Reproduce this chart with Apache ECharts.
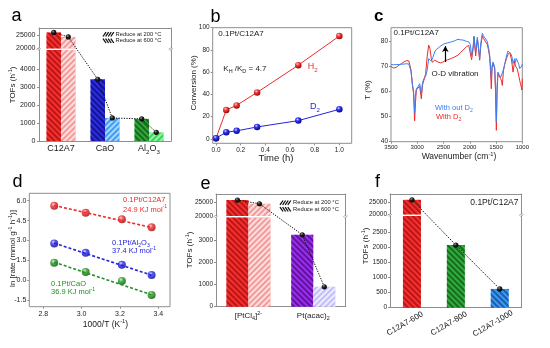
<!DOCTYPE html>
<html>
<head>
<meta charset="utf-8">
<script src="https://cdn.jsdelivr.net/npm/echarts@6.0.0/dist/echarts.min.js"></script>
<style>
html,body{margin:0;padding:0;background:#ffffff;}
#chart{width:550px;height:348px;}
</style>
</head>
<body>
<div id="chart"></div>
<script>
// ================= DATA =================
// (a) TOFs by support, reduced at 200 / 600 °C
const aCategories = ['C12A7', 'CaO', 'Al_{2}O_{3}'];
const aReduce200 = [26100, 3430, 1230];
const aReduce600 = [24400, 1280, 480];
const aLowTicks = [0, 1000, 2000, 3000, 4000];
const aHighTicks = [20000, 25000];

// (b) conversion vs time
const bTime = [0, 0.083, 0.167, 0.333, 0.667, 1.0];
const bH2 = [0.6, 26, 30.1, 41.8, 66.3, 92.5];
const bD2 = [0.6, 6, 7.2, 10.7, 16.4, 26.6];
const bXTicks = [0, 0.2, 0.4, 0.6, 0.8, 1.0];
const bYTicks = [0, 20, 40, 60, 80, 100];

// (c) FTIR spectra
const cWavenumber = [3500,3450,3400,3350,3300,3250,3200,3160,3120,3090,3070,3050,3035,3018,2986,2954,2922,2900,2872,2840,2810,2783,2760,2732,2715,2700,2668,2640,2605,2550,2478,2420,2351,2290,2224,2180,2129,2066,2020,1990,1965,1955,1935,1920,1888,1856,1835,1812,1790,1761,1740,1720,1704,1666,1640,1621,1605,1590,1575,1558,1526,1510,1494,1480,1463,1440,1412,1395,1380,1360,1336,1300,1272,1240,1209,1190,1177,1160,1145,1130,1114,1100,1082,1065,1050,1035,1018,1008,1000];
const cWithoutD2 = [70.6,70.5,70.6,70.6,70.7,70.8,70.9,70.8,68.0,62.5,60.0,51.6,58.0,61.0,61.8,63.0,59.0,63.5,65.0,66.0,68.5,72.9,73.5,72.0,71.5,73.5,75.6,76.5,77.2,78.0,78.9,79.2,79.6,80.0,80.6,80.4,80.3,79.8,79.6,78.5,74.0,73.6,78.0,81.9,75.6,81.4,78.0,72.9,79.0,83.0,82.0,82.5,81.5,79.7,77.0,74.3,70.0,65.0,70.0,71.6,69.6,62.0,48.0,62.0,67.6,66.5,65.5,66.0,65.0,68.5,70.6,74.0,76.0,76.5,74.6,73.0,71.0,72.0,72.9,71.5,73.0,72.5,71.5,70.5,69.0,69.5,69.0,70.0,70.9];
const cWithD2 = [69.8,69.2,69.5,70.3,71.0,71.7,72.2,72.0,68.5,62.0,59.0,48.3,55.0,60.5,61.0,62.0,57.0,62.5,64.5,67.0,74.0,78.3,77.0,72.9,71.5,71.0,72.3,71.8,71.6,71.2,72.0,72.5,73.0,73.6,74.3,75.3,76.3,77.6,78.2,77.5,72.5,72.3,77.0,81.5,74.0,80.5,77.0,72.3,78.0,82.0,81.0,81.5,80.5,78.5,76.0,73.5,68.0,61.0,69.5,71.0,69.0,60.0,44.5,60.0,67.0,66.5,65.0,64.0,62.3,68.0,70.6,73.0,74.6,75.5,72.9,70.0,67.6,70.0,72.0,70.0,70.6,69.0,67.6,66.0,64.3,63.0,61.6,60.5,65.0];
const cXTicks = [3500, 3000, 2500, 2000, 1500, 1000];
const cYTicks = [40, 50, 60, 70, 80];
const cArrowX = [2465, 2465];
const cArrowY = [71.6, 77.9];

// (d) Arrhenius plot
const dInvT = [2.857, 3.021, 3.21, 3.365];
const dC12A7 = [5.62, 5.09, 4.60, 3.99];
const dAl2O3 = [2.78, 2.07, 1.17, 0.39];
const dCaO = [1.32, 0.61, -0.06, -1.12];
const dFitX = [2.857, 3.365];
const dFitC12A7 = [5.64, 3.98];
const dFitAl2O3 = [2.80, 0.38];
const dFitCaO = [1.36, -1.10];
const dXTicks = [2.8, 3.0, 3.2, 3.4];
const dYTicks = [-1.5, 0, 1.5, 3.0, 4.5, 6.0];

// (e) TOFs by Pt precursor
const eCategories = ['[PtCl_{4}]^{2-}', 'Pt(acac)_{2}'];
const eReduce200 = [26000, 3250];
const eReduce600 = [24600, 900];
const eLowTicks = [0, 1000, 2000, 3000];
const eHighTicks = [20000, 25000];

// (f) TOFs by C12A7 calcination temperature
const fCategories = ['C12A7-600', 'C12A7-800', 'C12A7-1000'];
const fTOF = [25800, 2070, 620];
const fLowTicks = [0, 500, 1000, 1500, 2000, 2500];
const fHighTicks = [20000, 25000];

// ================= STYLE / LAYOUT =================
const FONT = '"Liberation Sans", Arial, Helvetica, sans-serif';
const FRAME = '#8e8e8e';
const INK = '#1a1a1a';
const L = {
  aTop: {left: 39, top: 28, width: 132, height: 20.5},
  aBot: {left: 39, top: 50, width: 132, height: 91},
  b:    {left: 212.7, top: 27.7, width: 139, height: 115.6},
  c:    {left: 391, top: 27.7, width: 131.3, height: 114},
  d:    {left: 29.3, top: 193.3, width: 140.7, height: 113.4},
  eTop: {left: 216, top: 194, width: 129.7, height: 22},
  eBot: {left: 216, top: 217.5, width: 129.7, height: 89.2},
  fTop: {left: 390, top: 194, width: 131.7, height: 20.5},
  fBot: {left: 390, top: 216, width: 131.7, height: 91.7}
};

function rich(str) {
  let out = '', last = 0, m;
  const re = /([_^])\{([^}]*)\}/g;
  while ((m = re.exec(str))) {
    if (m.index > last) out += '{n|' + str.slice(last, m.index) + '}';
    out += '{' + (m[1] === '_' ? 'b' : 't') + '|' + m[2] + '}';
    last = re.lastIndex;
  }
  if (last < str.length) out += '{n|' + str.slice(last) + '}';
  return out;
}
function richStyles(fs, color, key) {
  const k = key || 'color';
  const lh = Math.round(fs * 1.3);
  const n = {fontSize: fs, lineHeight: lh, verticalAlign: 'middle', fontFamily: FONT};
  const b = {fontSize: fs * 0.68, lineHeight: fs * 0.72, verticalAlign: 'bottom', fontFamily: FONT};
  const t = {fontSize: fs * 0.68, lineHeight: fs * 0.72, verticalAlign: 'top', fontFamily: FONT};
  n[k] = color; b[k] = color; t[k] = color;
  return {n, b, t};
}
function hatch(color, lineColor, dir) {
  return {color, decal: {symbol: 'rect', symbolSize: 1, color: lineColor, dashArrayX: [1, 0], dashArrayY: [1.3, 1.7], rotation: dir * Math.PI / 4}};
}
const a200Style = [hatch('#f53030', 'rgba(140,0,0,0.55)', 1), hatch('#2d2de8', 'rgba(0,0,70,0.55)', 1), hatch('#31a83c', 'rgba(0,55,0,0.55)', 1)];
const a600Style = [hatch('#f39a9a', 'rgba(255,235,235,0.85)', -1), hatch('#3d9df4', 'rgba(220,240,255,0.7)', -1), hatch('#33d853', 'rgba(220,255,225,0.6)', -1)];
const e200Style = [hatch('#f53030', 'rgba(140,0,0,0.55)', 1), hatch('#9b2df0', 'rgba(45,0,85,0.55)', 1)];
const e600Style = [hatch('#f39a9a', 'rgba(255,235,235,0.85)', -1), hatch('#c3bff8', 'rgba(245,245,255,0.85)', -1)];
const fStyle = [hatch('#f53030', 'rgba(140,0,0,0.55)', 1), hatch('#31ac3e', 'rgba(0,55,0,0.55)', 1), hatch('#3a9af2', 'rgba(0,30,100,0.5)', 1)];

function grid(r, show) {
  return Object.assign({show: !!show, borderColor: FRAME, borderWidth: 1, containLabel: false, outerBoundsMode: 'none'}, r);
}
function vAxis(o) {
  return {
    type: 'value', gridIndex: o.grid, min: o.min, max: o.max, position: o.pos, inverse: !!o.inverse,
    axisLine: {show: !!o.line, onZero: false, lineStyle: {color: FRAME, width: 1}},
    axisTick: {show: !!o.ticks, inside: false, length: 2, customValues: o.ticks || undefined, lineStyle: {color: FRAME}},
    axisLabel: {show: !!o.ticks, customValues: o.ticks || undefined, margin: o.margin || 3, fontSize: o.fs || 7, fontFamily: FONT, color: '#222',
      formatter: o.fmt || (v => String(v))},
    splitLine: {show: false}
  };
}
function cAxis(o) {
  return {
    type: 'category', gridIndex: o.grid, data: o.data, position: o.pos,
    axisLine: {show: true, onZero: false, lineStyle: {color: FRAME, width: 1}},
    axisTick: {show: false},
    axisLabel: o.labels ? Object.assign({show: true, margin: o.margin || 2, fontSize: o.fs, fontFamily: FONT, color: INK, interval: 0,
      formatter: v => rich(v), rich: richStyles(o.fs, INK)}, o.extra || {}) : {show: false},
    splitLine: {show: false}
  };
}
function bars(xi, yi, vals, styles, width) {
  return {type: 'bar', xAxisIndex: xi, yAxisIndex: yi, barWidth: width, barGap: '0%', clip: true, silent: true,
    data: vals.map((v, i) => ({value: v, itemStyle: styles[i]}))};
}
function sphere(light, mid, dark) {
  return {type: 'radial', x: 0.38, y: 0.32, r: 0.7, colorStops: [{offset: 0, color: light}, {offset: 0.35, color: mid}, {offset: 1, color: dark}]};
}
const zip = (xs, ys) => xs.map((x, i) => [x, ys[i]]);

const RED = '#ee2a2a', BLUE = '#2424dc', GREEN = '#229022';
const one = v => v.toFixed(1);

const option = {
  animation: false,
  backgroundColor: '#ffffff',
  grid: [grid(L.aTop), grid(L.aBot), grid(L.b, true), grid(L.c, true), grid(L.d, true),
         grid(L.eTop), grid(L.eBot), grid(L.fTop), grid(L.fBot)],
  xAxis: [
    cAxis({grid: 0, data: aCategories, pos: 'top'}),
    cAxis({grid: 1, data: aCategories, pos: 'bottom', labels: true, fs: 9, margin: 2}),
    vAxis({grid: 2, min: -0.027, max: 1.1, pos: 'bottom', ticks: bXTicks, fs: 6.5, fmt: one, margin: 3}),
    vAxis({grid: 3, min: 1000, max: 3500, pos: 'bottom', inverse: true, ticks: cXTicks, fs: 6, margin: 3}),
    vAxis({grid: 4, min: 2.727, max: 3.461, pos: 'bottom', ticks: dXTicks, fs: 7, fmt: one, margin: 4}),
    cAxis({grid: 5, data: eCategories, pos: 'top'}),
    cAxis({grid: 6, data: eCategories, pos: 'bottom', labels: true, fs: 8, margin: 4}),
    cAxis({grid: 7, data: fCategories, pos: 'top'}),
    cAxis({grid: 8, data: fCategories, pos: 'bottom', labels: true, fs: 8, margin: 12,
      extra: {rotate: 30, align: 'center', verticalAlign: 'middle', padding: [0, 16, 0, 0]}})
  ],
  yAxis: [
    vAxis({grid: 0, min: 20000, max: 27800, pos: 'left', line: true, ticks: aHighTicks, fs: 7, margin: 3.5}),
    vAxis({grid: 0, min: 20000, max: 27800, pos: 'right', line: true}),
    vAxis({grid: 1, min: 0, max: 5055, pos: 'left', line: true, ticks: aLowTicks, fs: 7, margin: 3.5}),
    vAxis({grid: 1, min: 0, max: 5055, pos: 'right', line: true}),
    vAxis({grid: 2, min: -4, max: 100, pos: 'left', ticks: bYTicks, fs: 6.5, margin: 3}),
    vAxis({grid: 3, min: 40, max: 85.2, pos: 'left', ticks: cYTicks, fs: 6.5, margin: 3}),
    vAxis({grid: 4, min: -2.0, max: 6.56, pos: 'left', ticks: dYTicks, fs: 7, fmt: one, margin: 3}),
    vAxis({grid: 5, min: 20000, max: 28270, pos: 'left', line: true, ticks: eHighTicks, fs: 6.5, margin: 3}),
    vAxis({grid: 5, min: 20000, max: 28270, pos: 'right', line: true}),
    vAxis({grid: 6, min: 0, max: 4030, pos: 'left', line: true, ticks: eLowTicks, fs: 6.5, margin: 3}),
    vAxis({grid: 6, min: 0, max: 4030, pos: 'right', line: true}),
    vAxis({grid: 7, min: 20000, max: 28100, pos: 'left', line: true, ticks: fHighTicks, fs: 6.5, margin: 3}),
    vAxis({grid: 7, min: 20000, max: 28100, pos: 'right', line: true}),
    vAxis({grid: 8, min: 0, max: 3030, pos: 'left', line: true, ticks: fLowTicks, fs: 6.5, margin: 3}),
    vAxis({grid: 8, min: 0, max: 3030, pos: 'right', line: true})
  ],
  series: [
    // (a)
    bars(0, 0, aReduce200, a200Style, '33%'), bars(0, 0, aReduce600, a600Style, '33%'),
    bars(1, 2, aReduce200, a200Style, '33%'), bars(1, 2, aReduce600, a600Style, '33%'),
    // (b)
    {type: 'line', xAxisIndex: 2, yAxisIndex: 4, data: zip(bTime, bH2), symbol: 'circle', symbolSize: 6.5,
      lineStyle: {color: RED, width: 1}, itemStyle: {color: sphere('#ffd0d0', '#f04040', '#a00000')}, silent: true},
    {type: 'line', xAxisIndex: 2, yAxisIndex: 4, data: zip(bTime, bD2), symbol: 'circle', symbolSize: 6.5,
      lineStyle: {color: BLUE, width: 1}, itemStyle: {color: sphere('#d8d8ff', '#3838f0', '#000090')}, silent: true},
    // (c)
    {type: 'line', xAxisIndex: 3, yAxisIndex: 5, data: zip(cWavenumber, cWithD2), showSymbol: false,
      lineStyle: {color: '#ee2a2a', width: 1}, silent: true},
    {type: 'line', xAxisIndex: 3, yAxisIndex: 5, data: zip(cWavenumber, cWithoutD2), showSymbol: false,
      lineStyle: {color: '#3a80f2', width: 1}, silent: true,
      markLine: {silent: true, symbol: ['none', 'arrow'], symbolSize: [5, 6], label: {show: false},
        lineStyle: {color: '#000', width: 1.2, type: 'solid'},
        data: [[{coord: [cArrowX[0], cArrowY[0]]}, {coord: [cArrowX[1], cArrowY[1]]}]]}},
    // (d)
    {type: 'line', xAxisIndex: 4, yAxisIndex: 6, data: zip(dFitX, dFitC12A7), showSymbol: false, lineStyle: {color: RED, width: 1.6, type: [3, 2]}, silent: true},
    {type: 'line', xAxisIndex: 4, yAxisIndex: 6, data: zip(dFitX, dFitAl2O3), showSymbol: false, lineStyle: {color: BLUE, width: 1.6, type: [3, 2]}, silent: true},
    {type: 'line', xAxisIndex: 4, yAxisIndex: 6, data: zip(dFitX, dFitCaO), showSymbol: false, lineStyle: {color: GREEN, width: 1.6, type: [3, 2]}, silent: true},
    {type: 'scatter', xAxisIndex: 4, yAxisIndex: 6, data: zip(dInvT, dC12A7), symbolSize: 8, itemStyle: {color: sphere('#ffd0d0', '#f03030', '#a00000')}, silent: true},
    {type: 'scatter', xAxisIndex: 4, yAxisIndex: 6, data: zip(dInvT, dAl2O3), symbolSize: 8, itemStyle: {color: sphere('#d8d8ff', '#3030f0', '#000090')}, silent: true},
    {type: 'scatter', xAxisIndex: 4, yAxisIndex: 6, data: zip(dInvT, dCaO), symbolSize: 8, itemStyle: {color: sphere('#d0f5d0', '#2aa02a', '#005000')}, silent: true},
    // (e)
    bars(5, 7, eReduce200, e200Style, '34%'), bars(5, 7, eReduce600, e600Style, '34%'),
    bars(6, 9, eReduce200, e200Style, '34%'), bars(6, 9, eReduce600, e600Style, '34%'),
    // (f)
    bars(7, 11, fTOF, fStyle, '41%'),
    bars(8, 13, fTOF, fStyle, '41%')
  ]
};

const chart = echarts.init(document.getElementById('chart'), null, {renderer: 'canvas', width: 550, height: 348});
chart.setOption(option);

// ================= ANNOTATIONS (derived from the chart's own scales) =================
const G = [];
function text(x, y, str, fs, color, align, extra) {
  G.push(Object.assign({type: 'text', x, y, z: 100, silent: true,
    style: {text: rich(str), rich: richStyles(fs, color, 'fill'), fill: color, align: align || 'left', verticalAlign: 'middle', fontSize: fs, fontFamily: FONT}}, extra || {}));
}
function vtext(x, y, str, fs) { text(x, y, str, fs, INK, 'center', {rotation: Math.PI / 2}); }

function catX(xAxisIndex, i, shift) {
  const c0 = chart.convertToPixel({xAxisIndex}, 0);
  const c1 = chart.convertToPixel({xAxisIndex}, 1);
  return chart.convertToPixel({xAxisIndex}, i) + shift * (c1 - c0);
}
function yPix(v, topAxis, botAxis) {
  return v >= 20000 ? chart.convertToPixel({yAxisIndex: topAxis}, v) : chart.convertToPixel({yAxisIndex: botAxis}, v);
}
function dotted(points) {
  G.push({type: 'polyline', z: 100, silent: true, shape: {points}, style: {stroke: '#111', lineWidth: 1, lineDash: [1.3, 1.3], fill: null}});
  points.forEach(p => G.push({type: 'circle', z: 101, silent: true, shape: {cx: p[0], cy: p[1], r: 2.6},
    style: {fill: {type: 'radial', x: 0.38, y: 0.32, r: 0.7, colorStops: [{offset: 0, color: '#9a9a9a'}, {offset: 0.4, color: '#222'}, {offset: 1, color: '#000'}]}}}));
}
function pairDots(xAxisIndex, topY, botY, v200, v600, frac) {
  const pts = [];
  v200.forEach((v, i) => {
    pts.push([catX(xAxisIndex, i, -frac / 2), yPix(v, topY, botY)]);
    pts.push([catX(xAxisIndex, i, frac / 2), yPix(v600[i], topY, botY)]);
  });
  return pts;
}
dotted(pairDots(1, 0, 2, aReduce200, aReduce600, 0.33));
dotted(pairDots(6, 7, 9, eReduce200, eReduce600, 0.34));
dotted(fTOF.map((v, i) => [catX(8, i, 0), yPix(v, 11, 13)]));

// axis breaks
function brk(r1, r2) {
  const y = (r1.top + r1.height + r2.top) / 2;
  [r1.left, r1.left + r1.width].forEach(x => {
    G.push({type: 'rect', z: 99, silent: true, shape: {x: x - 3, y: y - 0.8, width: 6, height: 1.6}, style: {fill: '#fff'}});
    text(x, y, '≈', 8, FRAME, 'center', {rotation: Math.PI / 4});
  });
}
brk(L.aTop, L.aBot); brk(L.eTop, L.eBot); brk(L.fTop, L.fBot);

// legend swatches for (a) and (e)
function swatch(x, y, dir) {
  for (let k = 0; k < 4; k++) {
    const x0 = x + k * 2.6;
    G.push({type: 'line', z: 100, silent: true,
      shape: dir > 0 ? {x1: x0, y1: y + 2.2, x2: x0 + 3, y2: y - 2.2} : {x1: x0, y1: y - 2.2, x2: x0 + 3, y2: y + 2.2},
      style: {stroke: '#111', lineWidth: 1.3}});
  }
}
swatch(103, 34.3, 1); text(115.5, 34.3, 'Reduce at 200 °C', 5.8, INK);
swatch(103, 40.8, -1); text(115.5, 40.8, 'Reduce at 600 °C', 5.8, INK);
swatch(280, 202.7, 1); text(293, 202.7, 'Reduce at 200 °C', 5.8, INK);
swatch(280, 209.3, -1); text(293, 209.3, 'Reduce at 600 °C', 5.8, INK);

// panel letters
text(11.5, 16.5, 'a', 18, '#000');
text(210.5, 17, 'b', 18, '#000');
text(374, 16.5, 'c', 17, '#000', 'left', {style: {text: 'c', fontSize: 17, fontWeight: 'bold', fontFamily: FONT, fill: '#000', verticalAlign: 'middle'}});
text(12.5, 182, 'd', 18, '#000');
text(200.5, 184.5, 'e', 18, '#000');
text(375, 182, 'f', 18, '#000');

// axis titles
vtext(13, 85, 'TOFs (h^{-1})', 8);
vtext(193.5, 83, 'Conversion (%)', 8);
vtext(368, 90, 'T (%)', 8);
vtext(12.5, 248.5, 'ln [rate (mmol g^{-1} h^{-1})]', 8);
vtext(190, 250, 'TOFs (h^{-1})', 8);
vtext(366, 246, 'TOFs (h^{-1})', 8);
text(276, 158, 'Time (h)', 9.5, INK, 'center');
text(459, 157, 'Wavenumber (cm^{-1})', 8.5, INK, 'center');
text(105.5, 324.3, '1000/T (K^{-1})', 8.5, INK, 'center');

// in-plot annotations
text(218.3, 34, '0.1Pt/C12A7', 8, INK);
text(223.3, 69, 'K_{H} /K_{D} = 4.7', 8, INK);
text(307.7, 67, 'H_{2}', 9, RED);
text(310, 107, 'D_{2}', 9, BLUE);
text(393.5, 33, '0.1Pt/C12A7', 8, INK);
text(455, 74, 'O-D vibration', 8, INK, 'center');
text(435, 108, 'With out D_{2}', 7.5, '#3a7cf0');
text(436, 117, 'With D_{2}', 7.5, RED);
text(123, 200, '0.1Pt/C12A7', 7.5, RED);
text(123, 209.5, '24.9 KJ mol^{-1}', 7.5, RED);
text(112, 242.7, '0.1Pt/Al_{2}O_{3}', 7.5, BLUE);
text(112, 251, '37.4 KJ mol^{-1}', 7.5, BLUE);
text(51, 284, '0.1Pt/CaO', 7.5, GREEN);
text(51, 292, '36.9 KJ mol^{-1}', 7.5, GREEN);
text(518.5, 202.7, '0.1Pt/C12A7', 8.5, INK, 'right');

chart.setOption({graphic: {elements: G}});
</script>
</body>
</html>
